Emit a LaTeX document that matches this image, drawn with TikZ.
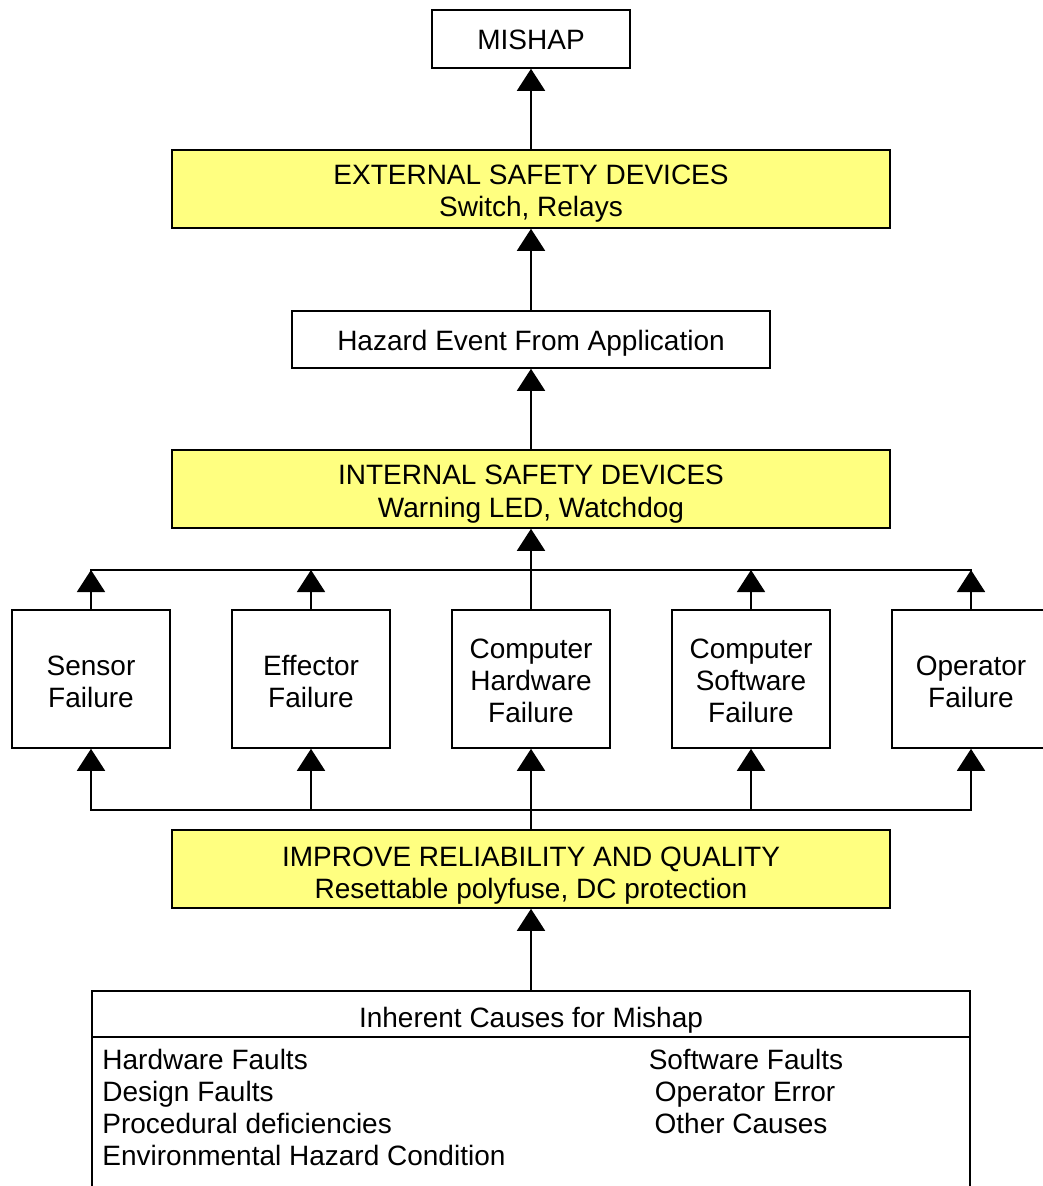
\documentclass[tikz,border=0pt]{standalone}
\usepackage{fontspec}
\setmainfont{Liberation Sans}
\usetikzlibrary{arrows.meta}
\definecolor{boxyellow}{RGB}{255,255,128}
\begin{document}
\begin{tikzpicture}[x=0.5pt,y=-0.5pt,
  every node/.style={font=\fontsize{14}{16}\selectfont},
  plain/.style={draw, line width=0.8pt, inner sep=0pt},
  yel/.style={plain, fill=boxyellow, minimum width=359pt, minimum height=39pt},
  fail/.style={plain, minimum width=79pt, minimum height=69pt},
  arr/.style={line width=0.9pt, -{Triangle[width=14pt,length=11pt]}},
  bus/.style={line width=0.9pt, line cap=rect},
  lst/.style={inner sep=0pt, anchor=base west},
  tl/.style={inner sep=0pt, anchor=base}]
\useasboundingbox (0,0) rectangle (1042,1186);
% boxes
\node[plain, minimum width=99pt, minimum height=29pt] (mishap) at (531,39) {};
\node[yel] (ext) at (531,189) {};
\node[plain, minimum width=239pt, minimum height=28.5pt] (haz) at (531,339.5) {};
\node[yel] (int) at (531,489) {};
\node[fail] (sen) at (91,679) {};
\node[fail] (eff) at (311,679) {};
\node[fail] (chw) at (531,679) {};
\node[fail] (csw) at (751,679) {};
\node[fail] (opf) at (971,679) {};
\node[yel] (irq) at (531,869) {};
\node[plain, minimum width=439pt, minimum height=104.5pt] (inh) at (531,1095.5) {};
% box texts
\node[tl] (mishap1) at (mishap.center |- 0,50) {MISHAP};
\node[tl] (ext1) at (ext.center |- 0,185) {EXTERNAL SAFETY DEVICES};
\node[tl] (ext2) at (ext.center |- 0,217) {Switch, Relays};
\node[tl] (haz1) at (haz.center |- 0,351) {Hazard Event From Application};
\node[tl] (int1) at (int.center |- 0,485) {INTERNAL SAFETY DEVICES};
\node[tl] (int2) at (int.center |- 0,517) {Warning LED, Watchdog};
\node[tl] (sen1) at (sen.center |- 0,675) {Sensor};
\node[tl] (sen2) at (sen.center |- 0,707) {Failure};
\node[tl] (eff1) at (eff.center |- 0,675) {Effector};
\node[tl] (eff2) at (eff.center |- 0,707) {Failure};
\node[tl] (chw1) at (chw.center |- 0,658) {Computer};
\node[tl] (chw2) at (chw.center |- 0,690) {Hardware};
\node[tl] (chw3) at (chw.center |- 0,722) {Failure};
\node[tl] (csw1) at (csw.center |- 0,658) {Computer};
\node[tl] (csw2) at (csw.center |- 0,690) {Software};
\node[tl] (csw3) at (csw.center |- 0,722) {Failure};
\node[tl] (opf1) at (opf.center |- 0,675) {Operator};
\node[tl] (opf2) at (opf.center |- 0,707) {Failure};
\node[tl] (irq1) at (irq.center |- 0,866) {IMPROVE RELIABILITY AND QUALITY};
\node[tl] (irq2) at (irq.center |- 0,898) {Resettable polyfuse, DC protection};
% connectors
\draw[arr] (ext.north) -- (mishap.south);
\draw[arr] (haz.north) -- (ext.south);
\draw[arr] (int.north) -- (haz.south);
\coordinate (tbl) at (91,570);
\coordinate (tbr) at (971,570);
\draw[bus] (tbl) -- (tbr);
\foreach \n in {sen,eff,csw,opf} \draw[arr] (\n.north) -- (\n.north |- tbl);
\draw[arr] (chw.north) -- (int.south);
\coordinate (bbl) at (91,810);
\coordinate (bbr) at (971,810);
\draw[bus] (bbl) -- (bbr);
\foreach \n in {sen,eff,csw,opf} \draw[arr] (\n.south |- bbl) -- (\n.south);
\draw[arr] (irq.north) -- (chw.south);
\draw[arr] (inh.north) -- (irq.south);
% inherent causes box contents
\coordinate (hl) at (0,1037);
\draw[line width=0.8pt] (inh.west |- hl) -- (inh.east |- hl);
\node[tl] (inht) at (531,1027) {Inherent Causes for Mishap};
\node[lst] (c1) at (102,1069) {Hardware Faults};
\node[lst] (c2) at (102,1101) {Design Faults};
\node[lst] (c3) at (102,1133) {Procedural deficiencies};
\node[lst] (c4) at (102,1165) {Environmental Hazard Condition};
\node[tl] (c5) at (746,1069) {Software Faults};
\node[tl] (c6) at (745,1101) {Operator Error};
\node[tl] (c7) at (741,1133) {Other Causes};
\end{tikzpicture}
\end{document}
